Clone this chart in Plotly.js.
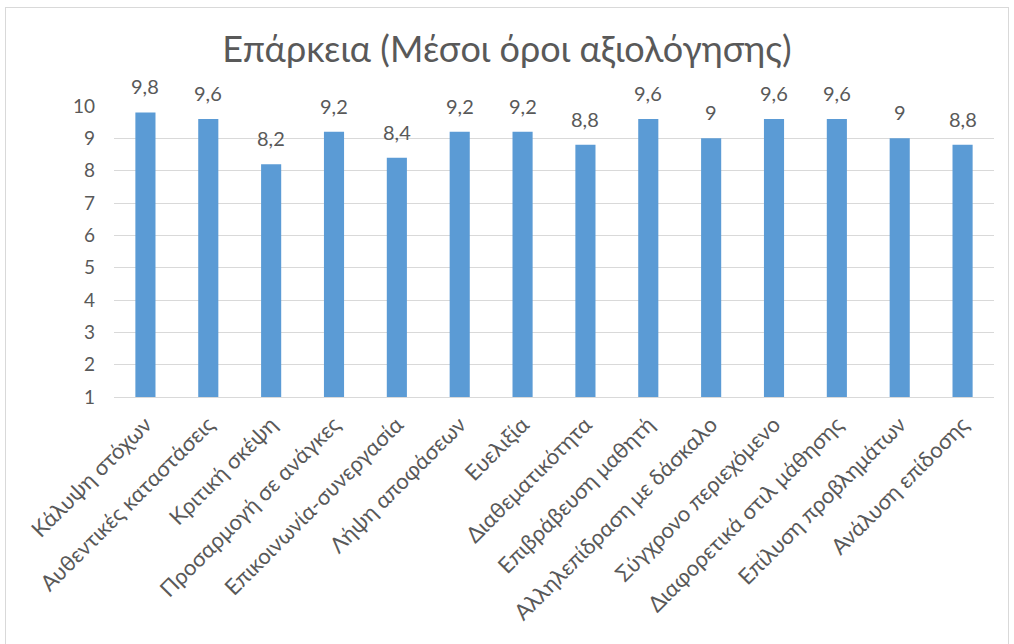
<!DOCTYPE html>
<html>
<head>
<meta charset="utf-8">
<script src="https://cdn.plot.ly/plotly-3.0.1.min.js"></script>
<style>
  html, body { margin: 0; padding: 0; background: #ffffff; }
  #frame { position: absolute; left: 5px; top: 7px; width: 1002px; height: 640px; border: 1px solid #d9d9d9; }
  #chart { width: 1002px; height: 640px; }
</style>
</head>
<body>
<div id="frame"><div id="chart"></div></div>
<script>
const categories = [
  "Κάλυψη στόχων",
  "Αυθεντικές καταστάσεις",
  "Κριτική σκέψη",
  "Προσαρμογή σε ανάγκες",
  "Επικοινωνία-συνεργασία",
  "Λήψη αποφάσεων",
  "Ευελιξία",
  "Διαθεματικότητα",
  "Επιβράβευση μαθητή",
  "Αλληλεπίδραση με δάσκαλο",
  "Σύγχρονο περιεχόμενο",
  "Διαφορετικά στιλ μάθησης",
  "Επίλυση προβλημάτων",
  "Ανάλυση επίδοσης"
];
const values = [9.8, 9.6, 8.2, 9.2, 8.4, 9.2, 9.2, 8.8, 9.6, 9.0, 9.6, 9.6, 9.0, 8.8];
const yTicks = [1, 2, 3, 4, 5, 6, 7, 8, 9, 10];
const chartTitle = "Επάρκεια (Μέσοι όροι αξιολόγησης)";

const FONT = "Lato, 'Open Sans', sans-serif";
const TXT = "#595959";

const fmt = v => String(v).replace(".", ",");

const trace = {
  type: "bar",
  x: categories,
  y: values.map(v => v - 1),
  base: 1,
  marker: { color: "#5b9bd5" },
  hoverinfo: "none"
};

const annotations = categories.map((c, i) => ({
  x: c, y: values[i], xref: "x", yref: "y",
  text: fmt(values[i]), showarrow: false,
  yanchor: "bottom", yshift: 12,
  font: { family: FONT, size: 20, color: TXT }
}));

const layout = {
  width: 1002, height: 640,
  margin: { l: 108, r: 14, t: 98, b: 251 },
  paper_bgcolor: "#ffffff", plot_bgcolor: "#ffffff",
  separators: ",.",
  title: {
    text: chartTitle,
    font: { family: FONT, size: 36, color: TXT },
    x: 0.5, xanchor: "center", y: 0.935, yanchor: "middle"
  },
  bargap: 0.68,
  showlegend: false,
  xaxis: {
    type: "category",
    tickangle: -45,
    tickfont: { family: FONT, size: 22, color: TXT },
    showgrid: false,
    showline: true, linecolor: "#d9d9d9", linewidth: 1,
    ticks: "", ticklabelstandoff: 5
  },
  yaxis: {
    range: [1, 10],
    tickvals: yTicks,
    ticktext: yTicks.map(String),
    tickfont: { family: FONT, size: 19, color: TXT },
    showgrid: true, gridcolor: "#d9d9d9", gridwidth: 1,
    zeroline: false, showline: false,
    ticks: "", ticklabelstandoff: 18
  },
  annotations: annotations
};

Plotly.newPlot("chart", [trace], layout, { displayModeBar: false, staticPlot: true });
</script>
</body>
</html>
